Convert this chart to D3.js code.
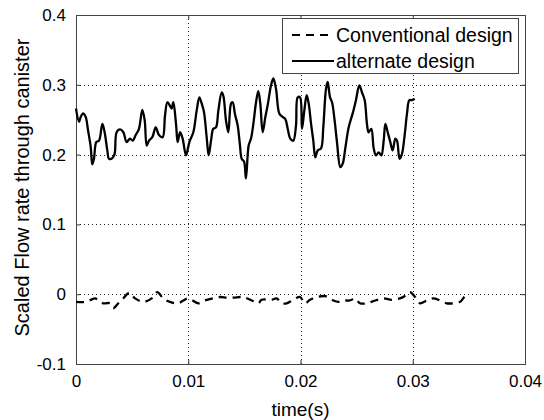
<!DOCTYPE html>
<html>
<head>
<meta charset="utf-8">
<script src="https://cdn.jsdelivr.net/npm/d3@7"></script>
<style>
  html, body { margin: 0; padding: 0; background: #fff; }
  svg { display: block; }
  text { font-family: "Liberation Sans", Arial, sans-serif; fill: #000; }
</style>
</head>
<body>
<script>
// ---- data ----
const altTime = [0.00000,0.00027,0.00042,0.00062,0.00086,0.00107,0.00131,0.00145,0.00160,0.00181,0.00205,0.00235,0.00255,0.00279,0.00294,0.00324,0.00344,0.00362,0.00392,0.00422,0.00451,0.00481,0.00505,0.00532,0.00561,0.00591,0.00612,0.00630,0.00650,0.00680,0.00710,0.00739,
0.00772,0.00793,0.00814,0.00837,0.00852,0.00867,0.00891,0.00906,0.00927,0.00950,0.00980,0.01010,0.01045,0.01075,0.01099,0.01120,0.01140,0.01164,0.01182,0.01203,0.01223,0.01247,0.01268,0.01298,0.01313,0.01336,0.01357,0.01381,0.01396,0.01416,0.01440,0.01461,0.01476,0.01497,0.01514,
0.01538,0.01559,0.01580,0.01604,0.01624,0.01642,0.01663,0.01687,0.01710,0.01737,0.01758,0.01782,0.01811,0.01841,0.01865,0.01886,0.01909,0.01936,0.01960,0.01975,0.01996,0.02013,0.02034,0.02055,0.02073,0.02094,0.02114,0.02132,0.02153,0.02183,0.02203,0.02227,0.02242,0.02263,
0.02281,0.02304,0.02325,0.02355,0.02376,0.02399,0.02429,0.02465,0.02494,0.02524,0.02548,0.02572,0.02592,0.02607,0.02631,0.02652,0.02673,0.02696,0.02720,0.02741,0.02756,0.02777,0.02800,0.02821,0.02845,0.02860,0.02883,0.02904,0.02928,0.02949,0.02970,0.02993,0.03017];
const altFlow = [0.266,0.247,0.254,0.259,0.254,0.235,0.211,0.186,0.194,0.218,0.220,0.244,0.232,0.206,0.194,0.195,0.201,0.232,0.236,0.232,0.218,0.223,0.220,0.228,0.237,0.264,0.249,0.213,0.220,0.225,0.239,0.228,
0.225,0.256,0.275,0.270,0.266,0.275,0.244,0.218,0.232,0.223,0.199,0.218,0.232,0.263,0.282,0.273,0.261,0.225,0.199,0.220,0.237,0.239,0.263,0.289,0.284,0.249,0.232,0.273,0.275,0.258,0.242,0.213,0.194,0.190,0.166,
0.213,0.223,0.244,0.275,0.291,0.273,0.232,0.254,0.273,0.299,0.309,0.294,0.259,0.254,0.251,0.237,0.223,0.220,0.242,0.282,0.282,0.237,0.263,0.285,0.273,0.244,0.220,0.196,0.206,0.209,0.239,0.294,0.304,0.282,
0.275,0.249,0.218,0.182,0.187,0.209,0.239,0.259,0.278,0.299,0.289,0.278,0.244,0.232,0.237,0.209,0.199,0.203,0.199,0.220,0.244,0.232,0.218,0.206,0.223,0.220,0.194,0.201,0.228,0.259,0.278,0.278,0.280];

const convTime = [0.00000,0.00095,0.00169,0.00243,0.00303,0.00332,0.00377,0.00421,0.00475,0.00526,0.00600,0.00674,0.00724,0.00778,0.00837,0.00911,0.00956,0.01000,0.01090,0.01149,0.01223,0.01283,0.01343,0.01401,0.01461,
0.01491,0.01566,0.01624,0.01654,0.01743,0.01788,0.01832,0.01877,0.01936,0.01996,0.02040,0.02085,0.02144,0.02233,0.02293,0.02337,0.02381,0.02441,0.02486,0.02530,0.02590,0.02649,0.02738,0.02812,0.02886,0.02946,0.02976,0.03020,0.03065,0.03124,0.03183,0.03243,0.03302,0.03361,0.03421,0.03465,0.03495];
const convFlow = [-0.011,-0.011,-0.006,-0.013,-0.013,-0.020,-0.013,-0.006,0.002,-0.006,-0.011,-0.006,0.003,-0.006,-0.011,-0.013,-0.009,-0.006,-0.013,-0.009,-0.006,-0.004,-0.005,-0.005,-0.004,
-0.004,-0.009,-0.013,-0.008,-0.008,-0.006,-0.013,-0.013,-0.008,-0.004,-0.013,-0.008,-0.004,-0.003,-0.009,-0.011,-0.009,-0.009,-0.006,-0.013,-0.013,-0.010,-0.006,-0.008,-0.006,-0.001,0.003,-0.004,-0.013,-0.009,-0.006,-0.009,-0.013,-0.013,-0.011,-0.003,0.000];

const xTicks = [0, 0.01, 0.02, 0.03, 0.04];
const xTickLabels = ["0", "0.01", "0.02", "0.03", "0.04"];
const yTicks = [-0.1, 0, 0.1, 0.2, 0.3, 0.4];
const yTickLabels = ["-0.1", "0", "0.1", "0.2", "0.3", "0.4"];
const seriesNames = ["Conventional design", "alternate design"];
const xLabel = "time(s)";
const yLabel = "Scaled Flow rate through canister";

// ---- layout ----
const W = 544, H = 420;
const m = { left: 76, top: 15, right: 19, bottom: 56 };
const iw = W - m.left - m.right, ih = H - m.top - m.bottom;

const svg = d3.select("body").append("svg").attr("width", W).attr("height", H);
svg.append("rect").attr("width", W).attr("height", H).attr("fill", "#fff");

const x = d3.scaleLinear().domain([0, 0.04]).range([0, iw]);
const y = d3.scaleLinear().domain([-0.1, 0.4]).range([ih, 0]);

const g = svg.append("g").attr("transform", `translate(${m.left},${m.top})`);

// grid
const grid = g.append("g").attr("stroke", "#222").attr("stroke-width", 1).attr("stroke-dasharray", "1,3");
grid.selectAll(".gx").data(xTicks.slice(1, -1)).enter().append("line")
  .attr("x1", d => Math.round(x(d)) + 0.5).attr("x2", d => Math.round(x(d)) + 0.5)
  .attr("y1", 0).attr("y2", ih);
grid.selectAll(".gy").data(yTicks.slice(1, -1)).enter().append("line")
  .attr("y1", d => Math.round(y(d)) + 0.5).attr("y2", d => Math.round(y(d)) + 0.5)
  .attr("x1", 0).attr("x2", iw);

// axes (MATLAB style: inward ticks on all sides)
const tickLen = 4;
const axB = g.append("g").attr("transform", `translate(0,${ih})`)
  .call(d3.axisBottom(x).tickValues(xTicks).tickFormat((d, i) => xTickLabels[i]).tickSizeInner(-tickLen).tickSizeOuter(0).tickPadding(10));
const axT = g.append("g")
  .call(d3.axisTop(x).tickValues(xTicks).tickFormat("").tickSizeInner(-tickLen).tickSizeOuter(0));
const axL = g.append("g")
  .call(d3.axisLeft(y).tickValues(yTicks).tickFormat((d, i) => yTickLabels[i]).tickSizeInner(-tickLen).tickSizeOuter(0).tickPadding(10));
const axR = g.append("g").attr("transform", `translate(${iw},0)`)
  .call(d3.axisRight(y).tickValues(yTicks).tickFormat("").tickSizeInner(-tickLen).tickSizeOuter(0));
[axB, axT, axL, axR].forEach(a => {
  a.select(".domain").remove();
  a.selectAll(".tick line").attr("stroke", "#333");
  a.selectAll("text").style("font-size", "17px").style("font-family", "'Liberation Sans', Arial, sans-serif").attr("fill", "#000");
});
axB.selectAll("text").attr("dy", "0.75em");

// box
g.append("rect").attr("x", 0.5).attr("y", 0.5).attr("width", iw).attr("height", ih)
  .attr("fill", "none").attr("stroke", "#444").attr("stroke-width", 1);

// lines
const line = d3.line().x(d => x(d[0])).y(d => y(d[1])).curve(d3.curveCatmullRom.alpha(0.5));
g.append("path").datum(convTime.map((t, i) => [t, convFlow[i]]))
  .attr("d", line).attr("fill", "none").attr("stroke", "#000").attr("stroke-width", 2.3)
  .attr("stroke-dasharray", "8,6");
g.append("path").datum(altTime.map((t, i) => [t, altFlow[i]]))
  .attr("d", line).attr("fill", "none").attr("stroke", "#000").attr("stroke-width", 2.3)
  .attr("stroke-linejoin", "round");

// labels
svg.append("text").attr("x", m.left + iw / 2).attr("y", 416).attr("text-anchor", "middle")
  .style("font-size", "19px").text(xLabel);
svg.append("text").attr("transform", `translate(29,${m.top + ih / 2 - 2}) rotate(-90)`).attr("text-anchor", "middle")
  .style("font-size", "20px").text(yLabel);

// legend
const lg = svg.append("g");
lg.append("rect").attr("x", 282.5).attr("y", 18.5).attr("width", 236).attr("height", 55)
  .attr("fill", "#fff").attr("stroke", "#444").attr("stroke-width", 1);
const rows = [{ name: seriesNames[0], dash: "8,6", yy: 35 }, { name: seriesNames[1], dash: null, yy: 61 }];
rows.forEach(r => {
  lg.append("line").attr("x1", 292).attr("x2", 334).attr("y1", r.yy).attr("y2", r.yy)
    .attr("stroke", "#000").attr("stroke-width", 2).attr("stroke-dasharray", r.dash);
  lg.append("text").attr("x", 336).attr("y", r.yy).attr("dy", "0.35em")
    .style("font-size", "19.5px").text(r.name);
});
</script>
</body>
</html>
